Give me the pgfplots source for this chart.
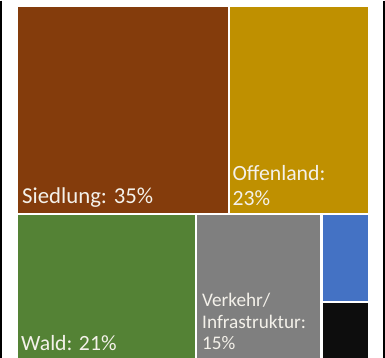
\documentclass[border=0pt]{standalone}
\usepackage{fontspec}
\setmainfont{Carlito}
\usepackage{pgfplots}
\pgfplotsset{compat=1.18}
\definecolor{cSied}{HTML}{843C0C}
\definecolor{cOffen}{HTML}{BF9000}
\definecolor{cWald}{HTML}{548235}
\definecolor{cVerk}{HTML}{7F7F7F}
\definecolor{cBlue}{HTML}{4472C4}
\definecolor{cBlack}{HTML}{0D0D0D}
\definecolor{cTxt}{HTML}{F4F1EA}
\tikzset{lbl/.style={font=\fontsize{21.5}{24}\selectfont, text=cTxt, anchor=base west, inner sep=0pt, outer sep=0pt}}
\begin{document}
\begin{tikzpicture}
\begin{axis}[
  scale only axis, width=385pt, height=354pt,
  xmin=0, xmax=385, ymin=0, ymax=354, y dir=reverse,
  axis lines=none, ticks=none, clip=true,
]
% Siedlung 35%
\addplot[fill=cSied, draw=none] coordinates {(20,7) (227.5,7) (227.5,211) (20,211)} --cycle;
% Offenland 23%
\addplot[fill=cOffen, draw=none] coordinates {(229.5,7) (366,7) (366,211) (229.5,211)} --cycle;
% Wald 21%
\addplot[fill=cWald, draw=none] coordinates {(20,213) (195,213) (195,354) (20,354)} --cycle;
% Verkehr/Infrastruktur 15%
\addplot[fill=cVerk, draw=none] coordinates {(197,213) (319,213) (319,354) (197,354)} --cycle;
% small category (blue)
\addplot[fill=cBlue, draw=none] coordinates {(321,213) (366,213) (366,298) (321,298)} --cycle;
% small category (black)
\addplot[fill=cBlack, draw=none] coordinates {(321,300) (366,300) (366,354) (321,354)} --cycle;
% frame lines (screenshot border)
\addplot[black, line width=2.4pt, forget plot] coordinates {(3.2,0.5) (3.2,354)};
\addplot[black, line width=2.4pt, forget plot] coordinates {(381.6,0.5) (381.6,354)};
\node[lbl, font=\fontsize{22.5}{24}\selectfont] at (axis cs:24,201) {Siedlung: 35\%};
\node[lbl] at (axis cs:232,179) {Offenland:};
\node[lbl] at (axis cs:232,203) {23\%};
\node[lbl] at (axis cs:23,347) {Wald: 21\%};
\node[lbl, font=\fontsize{19}{22}\selectfont] at (axis cs:202,303) {Verkehr/};
\node[lbl, font=\fontsize{19}{22}\selectfont] at (axis cs:202,325) {Infrastruktur:};
\node[lbl, font=\fontsize{19}{22}\selectfont] at (axis cs:202,346) {15\%};
\end{axis}
\end{tikzpicture}
\end{document}
